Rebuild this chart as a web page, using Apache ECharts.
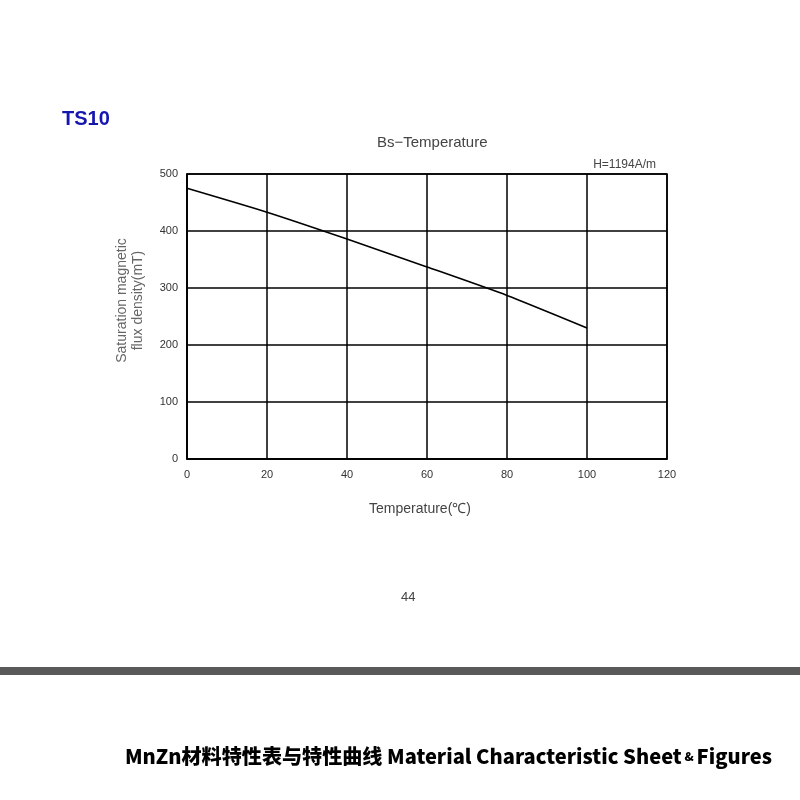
<!DOCTYPE html>
<html lang="en">
<head>
  <meta charset="UTF-8">
  <title>TS10 Bs-Temperature</title>
  <script type="text/javascript" src="https://fastly.jsdelivr.net/npm/echarts@6.0.0/dist/echarts.min.js"></script>
  <style>
    html, body, #container {
      width: 100%;
      height: 100%;
      margin: 0;
      padding: 0;
      overflow: hidden;
      background: #fff;
    }
  </style>
</head>
<body>
  <div id="container"></div>

  <script type="text/javascript">
    // Bs vs temperature
    var temperature = [0, 20, 40, 60, 80, 100];
    var bs = [475, 433, 386, 337, 287, 230];

    var xTicks = [0, 20, 40, 60, 80, 100, 120];
    var yTicks = [0, 100, 200, 300, 400, 500];

    var points = temperature.map(function (t, i) { return [t, bs[i]]; });

    var font = 'Liberation Sans, Arial, sans-serif';

    var myChart = echarts.init(document.getElementById('container'), null, { renderer: 'canvas' });
    myChart.setOption({
      animation: false,
      backgroundColor: '#fff',
      title: {
        text: 'Bs\u2212Temperature',
        left: 372,
        top: 130,
        textStyle: { fontFamily: font, fontSize: 15, fontWeight: 'normal', color: '#444' }
      },
      grid: { left: 187, top: 174, width: 480, height: 285, show: false },
      xAxis: {
        type: 'value',
        min: xTicks[0],
        max: xTicks[xTicks.length - 1],
        interval: 20,
        name: 'Temperature(\u2103)',
        nameLocation: 'middle',
        nameGap: 43,
        nameTextStyle: { fontFamily: font, fontSize: 14, color: '#444', padding: [0, 14, 0, 0] },
        axisLine: { lineStyle: { color: '#000', width: 1.5 } },
        axisTick: { show: false },
        axisLabel: { fontFamily: font, fontSize: 11, color: '#333', margin: 10 },
        splitLine: { show: true, lineStyle: { color: '#000', width: 1.5 } }
      },
      yAxis: {
        type: 'value',
        min: yTicks[0],
        max: yTicks[yTicks.length - 1],
        interval: 100,
        name: 'Saturation magnetic\nflux density(mT)',
        nameLocation: 'middle',
        nameGap: 41,
        // left padding nudges the rotated name up to where the sheet has it
        nameTextStyle: { fontFamily: font, fontSize: 14, color: '#666', lineHeight: 16, padding: [0, 0, 0, 32] },
        axisLine: { show: true, lineStyle: { color: '#000', width: 1.5 } },
        axisTick: { show: false },
        axisLabel: { fontFamily: font, fontSize: 11, color: '#333', margin: 9 },
        splitLine: { show: true, lineStyle: { color: '#000', width: 1.5 } }
      },
      graphic: [
        // closing border on the top and right of the plot box
        { type: 'rect', shape: { x: 187, y: 174, width: 480, height: 285 }, style: { fill: 'none', stroke: '#000', lineWidth: 1.5 }, silent: true },
        { type: 'text', left: 62, top: 109, style: { text: 'TS10', font: 'bold 20px ' + font, fill: '#1515b0' } },
        { type: 'text', right: 144, top: 159, style: { text: 'H=1194A/m', font: '12px ' + font, fill: '#444' } },
        { type: 'text', left: 401, top: 591, style: { text: '44', font: '13px ' + font, fill: '#444' } },
        { type: 'rect', shape: { x: 0, y: 667, width: 800, height: 8 }, style: { fill: '#595959' } },
        {
          type: 'text', left: 125, top: 746,
          style: {
            rich: {
              a: { fontFamily: 'Noto Sans CJK SC', fontWeight: 900, fontSize: 20.1, fill: '#000' },
              s: { fontFamily: 'Noto Sans CJK SC', fontWeight: 900, fontSize: 12, fill: '#000' }
            },
            text: '{a|MnZn材料特性表与特性曲线 Material Characteristic Sheet}{s| & }{a|Figures}'
          }
        }
      ],
      series: [{
        type: 'line',
        data: points,
        smooth: 0.2,
        symbol: 'none',
        lineStyle: { color: '#000', width: 1.6 }
      }]
    });
  </script>
</body>
</html>
